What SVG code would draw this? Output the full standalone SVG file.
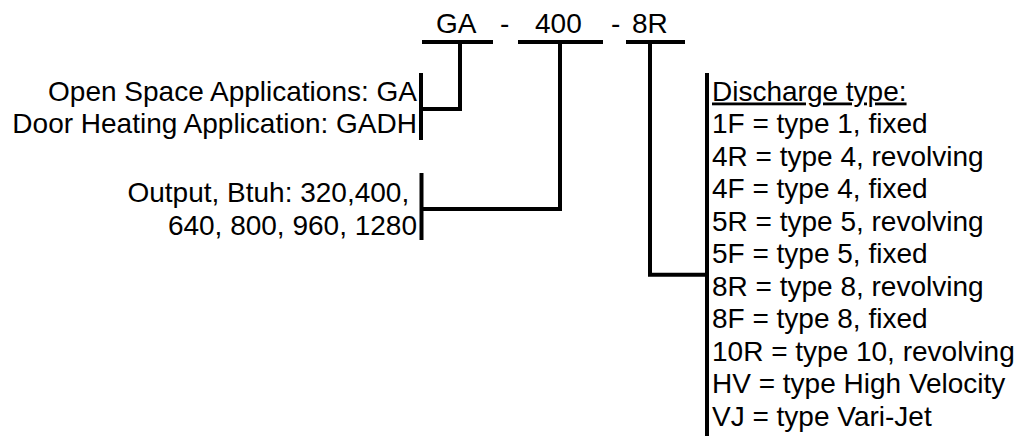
<svg xmlns="http://www.w3.org/2000/svg" width="1020" height="438" viewBox="0 0 1020 438">
<style>
text{font-family:"Liberation Sans",Arial,sans-serif;fill:#000;font-size:28px}
.r{text-anchor:end}
.line{stroke:#000;stroke-width:4;fill:none}
.u{text-decoration:underline}
</style>
<rect width="1020" height="438" fill="#fff"/>
<g id="code">
<text x="436" y="33">GA</text>
<text x="500" y="33">-</text>
<text x="535" y="33">400</text>
<text x="611" y="33">-</text>
<text x="632" y="33">8R</text>
</g>
<g id="application">
<text class="r" x="417" y="101">Open Space Applications: GA</text>
<text class="r" x="417" y="133">Door Heating Application: GADH</text>
<line class="line" x1="421" y1="73" x2="421" y2="140"/>
</g>
<g id="output">
<text class="r" x="417" y="202">Output, Btuh: 320,400,&#160;</text>
<text class="r" x="417" y="235">640, 800, 960, 1280</text>
<line class="line" x1="421.5" y1="173" x2="421.5" y2="240"/>
</g>
<g id="discharge">
<text class="u" x="712" y="100.5">Discharge type:</text>
<text x="712" y="133">1F = type 1, fixed</text>
<text x="712" y="165.5">4R = type 4, revolving</text>
<text x="712" y="198">4F = type 4, fixed</text>
<text x="712" y="230.5">5R = type 5, revolving</text>
<text x="712" y="263">5F = type 5, fixed</text>
<text x="712" y="295.5">8R = type 8, revolving</text>
<text x="712" y="328">8F = type 8, fixed</text>
<text x="712" y="360.5">10R = type 10, revolving</text>
<text x="712" y="393">HV = type High Velocity</text>
<text x="712" y="425.5">VJ = type Vari-Jet</text>
<line class="line" x1="707" y1="73" x2="707" y2="436"/>
</g>
<g id="connectors">
<line class="line" x1="422" y1="42" x2="493" y2="42"/>
<line class="line" x1="518" y1="42" x2="603" y2="42"/>
<line class="line" x1="626" y1="42" x2="685" y2="42"/>
<path class="line" d="M460 42V109H421"/>
<path class="line" d="M560 42V209H421"/>
<path class="line" d="M650 42V274.7H707"/>
</g>
</svg>
